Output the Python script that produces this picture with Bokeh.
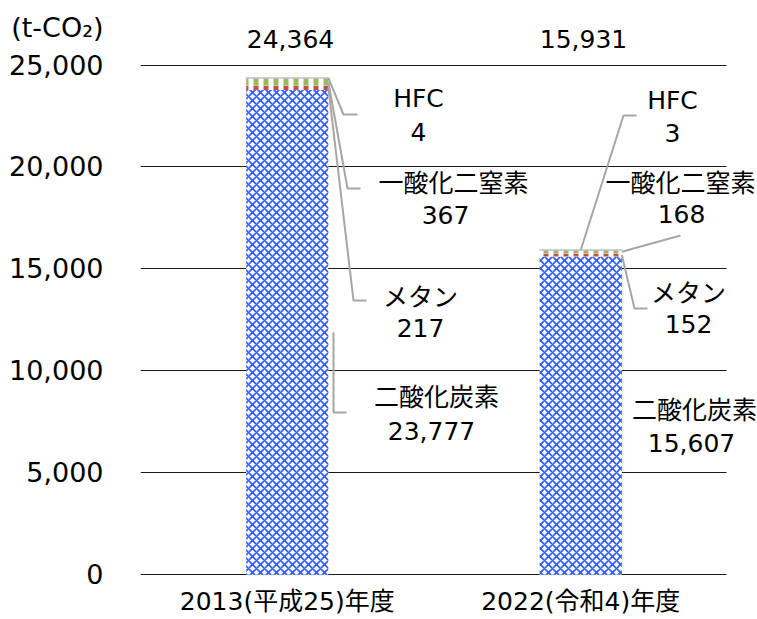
from bokeh.plotting import figure
from bokeh.models import Range1d, NumeralTickFormatter
from bokeh.core.properties import value
from bokeh.embed import file_html
from bokeh.resources import INLINE

# ---------------- data ----------------
years = ["2013(平成25)年度", "2022(令和4)年度"]
gas_names = ["HFC", "一酸化二窒素", "メタン", "二酸化炭素"]
co2 = [23777, 15607]
ch4 = [217, 152]
n2o = [367, 168]
hfc = [4, 3]
totals = [24364, 15931]
y_ticks = [0, 5000, 10000, 15000, 20000, 25000]
unit_label = "(t-CO₂)"

FONT = "DejaVu Sans, Noto Sans CJK JP"
TXT = "#000000"
xs = [1, 2]
bar_w = 0.28

# frame geometry (page px -> data) for annotation layout
FL, FB = 140.0, 574.3
PX_X = 293.5
PX_Y = 509.8 / 25000.0


def fx(px):
    return 0.5 + (px - FL) / PX_X


def fy(py):
    return (FB - py) / PX_Y


FRAME_TOP, FRAME_BOT, FRAME_RIGHT = 0, 575, 757
p = figure(frame_width=int(FRAME_RIGHT - FL), frame_height=FRAME_BOT - FRAME_TOP,
           x_range=Range1d(0.5, fx(FRAME_RIGHT)),
           y_range=Range1d(fy(FRAME_BOT), fy(FRAME_TOP)),
           output_backend="svg", toolbar_location=None,
           min_border_left=int(FL), min_border_right=0,
           min_border_top=0, min_border_bottom=44)
p.background_fill_color = "white"
p.border_fill_color = "white"
p.outline_line_color = None

# grid
p.ygrid.ticker = y_ticks
p.ygrid.cross_bounds = (0.5, fx(726))
p.ygrid.grid_line_color = "#1a1a1a"
p.ygrid.grid_line_width = 1
p.xgrid.grid_line_color = None

# axes
unit_tick = int(round(fy(27)))
p.yaxis.ticker = y_ticks + [unit_tick]
p.yaxis.formatter = NumeralTickFormatter(format="0,0")
p.yaxis.major_label_overrides = {unit_tick: unit_label}
p.yaxis.major_label_text_font = FONT
p.yaxis.major_label_text_font_size = "27px"
p.yaxis.major_label_text_color = TXT
p.yaxis.major_label_standoff = 31
p.yaxis.axis_line_color = None
p.yaxis.major_tick_line_color = None
p.yaxis.minor_tick_line_color = None

p.xaxis.ticker = xs
p.xaxis.major_label_overrides = {1: years[0], 2: years[1]}
p.xaxis.major_label_text_font = FONT
p.xaxis.major_label_text_font_size = "25px"
p.xaxis.major_label_text_color = TXT
p.xaxis.major_label_standoff = 5
p.xaxis.axis_line_color = None
p.xaxis.major_tick_line_color = None
p.xaxis.minor_tick_line_color = None

# stacked bars
b1 = [a for a in co2]
b2 = [a + b for a, b in zip(co2, ch4)]
b3 = [a + b + c for a, b, c in zip(co2, ch4, n2o)]
b4 = [a + b + c + d for a, b, c, d in zip(co2, ch4, n2o, hfc)]

p.vbar(x=xs, width=bar_w, bottom=0, top=co2, line_color=None,
       fill_color="white", hatch_color="#2f5cff", hatch_pattern="diagonal_cross",
       hatch_scale=8, hatch_weight=1.7)
p.vbar(x=xs, width=bar_w, bottom=b1, top=b2, line_color=None,
       fill_color="white", hatch_color="#c0504d", hatch_pattern="vertical_line",
       hatch_scale=10, hatch_weight=5)
p.vbar(x=xs, width=bar_w, bottom=b2, top=b3, line_color=None,
       fill_color="white", hatch_color="#9bbb59", hatch_pattern="vertical_line",
       hatch_scale=10, hatch_weight=5)
p.vbar(x=xs, width=bar_w, bottom=b3, top=b4, line_color="#c4bad6", line_width=1.5,
       fill_color="#c4bad6")

# leader lines
LC = "#a6a6a6"
edge = [x + bar_w / 2 for x in xs]
mid_ch4 = [a + b / 2 for a, b in zip(b1, ch4)]
mid_n2o = [a + b / 2 for a, b in zip(b2, n2o)]
leaders_x = [
    [edge[0], fx(343), fx(357)],
    [edge[0], fx(347), fx(360)],
    [edge[0], fx(353), fx(366)],
    [fx(333), fx(333), fx(346)],
    [xs[1], fx(623), fx(636)],
    [edge[1], fx(680)],
    [edge[1], fx(634), fx(647)],
]
leaders_y = [
    [b4[0], fy(114), fy(114)],
    [mid_n2o[0], fy(188), fy(188)],
    [mid_ch4[0], fy(300), fy(300)],
    [co2[0] / 2, fy(412), fy(412)],
    [b4[1], fy(115), fy(115)],
    [mid_n2o[1], fy(235)],
    [mid_ch4[1], fy(308), fy(308)],
]
p.multi_line(xs=leaders_x, ys=leaders_y, line_color=LC, line_width=2)

# labels
vals = [hfc, n2o, ch4, co2]
name_pos = [
    [(418, 98), (672, 100)],
    [(453, 183), (680, 183)],
    [(420, 297), (688, 293)],
    [(436, 397), (694, 410)],
]
val_pos = [
    [(418, 131), (672, 132)],
    [(445, 214), (681, 213)],
    [(420, 327), (688, 323)],
    [(431, 430), (691, 442)],
]
tx, ty, tt = [], [], []
for k, nm in enumerate(gas_names):
    for j in range(2):
        tx.append(fx(name_pos[k][j][0]))
        ty.append(fy(name_pos[k][j][1]))
        tt.append(nm)
        tx.append(fx(val_pos[k][j][0]))
        ty.append(fy(val_pos[k][j][1]))
        tt.append(f"{vals[k][j]:,}")
p.text(x=tx, y=ty, text=tt, text_font=value(FONT), text_font_size="25px",
       text_align="center", text_baseline="middle", text_color=TXT)

# totals
p.text(x=[fx(290), fx(583)], y=[fy(38), fy(38)], text=[f"{t:,}" for t in totals],
       text_font=value(FONT), text_font_size="25px",
       text_align="center", text_baseline="middle", text_color=TXT)

open("out.html", "w").write(file_html(p, INLINE))
